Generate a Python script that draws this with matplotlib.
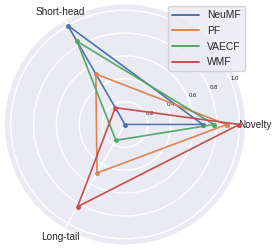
import matplotlib

matplotlib.use("Agg")
import matplotlib.pyplot as plt
from matplotlib.lines import Line2D
import numpy as np
import seaborn as sns

sns.set_theme(style="darkgrid")
plt.rcParams["font.family"] = ["Liberation Sans", "DejaVu Sans"]

# axes of the radar, counter-clockwise from 0 degrees
categories = ["Novelty", "Short-head", "Long-tail"]
models = ["NeuMF", "PF", "VAECF", "WMF"]
neumf = [0.68, 1.00, 0.00]
pf = [0.89, 0.51, 0.49]
vaecf = [0.78, 0.84, 0.16]
wmf = [1.00, 0.17, 0.83]
r_ticks = [0.2, 0.4, 0.6, 0.8, 1.0]

colors = sns.color_palette("deep", 4)

fig = plt.figure(figsize=(2.76, 2.5), dpi=100)
ax = fig.add_axes([5 / 276, 5.5 / 250, 240 / 276, 240 / 250], polar=True)

angles = np.linspace(0, 2 * np.pi, len(categories), endpoint=False)
closed = np.concatenate([angles, angles[:1]])

handles = []
for name, vals, c in zip(models, [neumf, pf, vaecf, wmf], colors):
    v = list(vals) + [vals[0]]
    ax.plot(closed, v, color=c, lw=1.2, marker="o", markersize=2.5)
    handles.append(Line2D([], [], color=c, lw=1.4, label=name))

ax.set_thetagrids(np.degrees(angles), categories, fontsize=7.2)
ax.set_rgrids(r_ticks, [f"{t:.1f}" for t in r_ticks], fontsize=4.3)
ax.set_rlabel_position(22.5)
ax.set_ylim(0, 1.05)
ax.tick_params(axis="x", pad=-6)
ax.spines["polar"].set_visible(False)

ax.legend(handles=handles, loc="upper right", bbox_to_anchor=(244 / 240, 1.01),
          fontsize=7.4, handlelength=2.6, labelspacing=0.55, borderaxespad=0.4)

fig.savefig("out.png", dpi=100)
